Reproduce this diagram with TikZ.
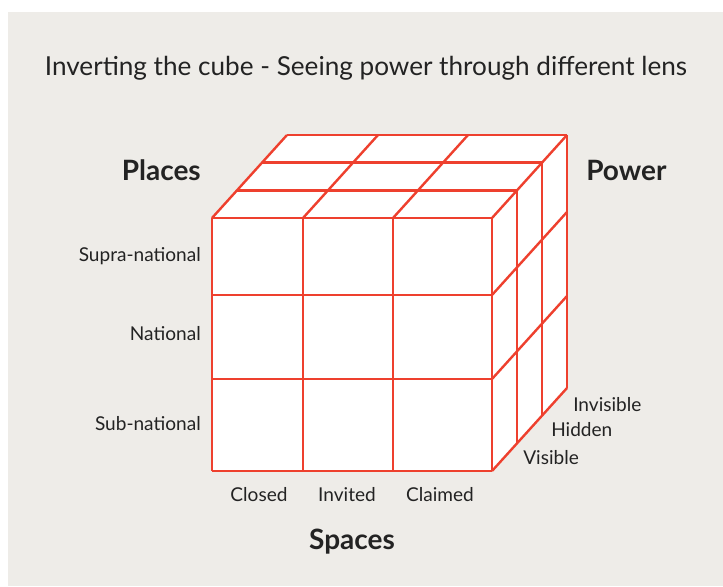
\documentclass[tikz,border=0pt]{standalone}
\usepackage{fontspec}
\setmainfont{Lato}
\usepackage{tikz}
\definecolor{cubered}{RGB}{238,64,46}
\definecolor{paper}{RGB}{238,236,232}
\definecolor{ink}{RGB}{35,35,35}

\begin{document}
\begin{tikzpicture}[x=0.75pt, y=-0.75pt,
    edge/.style={draw=cubered, line width=1.8pt, line join=miter},
    lbl/.style={font=\fontsize{14.3}{17}\selectfont, text=ink, inner sep=0pt},
    axis/.style={font=\bfseries\fontsize{21}{24}\selectfont, text=ink, inner sep=0pt}
  ]
    \useasboundingbox (0,0) rectangle (723,586);
    \fill[paper] (8,12) rectangle (723,586);

    % faces
    \fill[white] (212,218) -- (287,135) -- (567,135) -- (567,388) -- (492,471) -- (212,471) -- cycle;

    % front face grid
    \foreach \x in {212,303,393,492}
      \draw[edge] (\x,218) -- (\x,471);
    \foreach \y in {218,295,379,471}
      \draw[edge] (212,\y) -- (492,\y);
    % top face
    \foreach \k in {1,2,3}
      \draw[edge] (212+25*\k,218-27.67*\k) -- (492+25*\k,218-27.67*\k);
    \foreach \x in {212,303,393,492}
      \draw[edge] (\x,218) -- (\x+75,135);
    % right face
    \foreach \k in {1,2,3}
      \draw[edge] (492+25*\k,218-27.67*\k) -- (492+25*\k,471-27.67*\k);
    \foreach \y in {295,379,471}
      \draw[edge] (492,\y) -- (567,\y-83);

    \node[lbl] (title) at (366,68) {\fontsize{19.6}{23}\selectfont Inverting the cube - Seeing power through different lens};

    \node[axis, anchor=east] (places) at (201,170) {Places};
    \node[axis, anchor=west] (power) at (586,170) {Power};
    \node[axis] (spaces) at (352,542) {Spaces};

    \node[lbl, anchor=east] (supra) at (201,256) {Supra-national};
    \node[lbl, anchor=east] (national) at (201,334) {National};
    \node[lbl, anchor=east] (sub) at (201,424) {Sub-national};

    \node[lbl] (closed) at (259,495) {Closed};
    \node[lbl] (invited) at (347,495) {Invited};
    \node[lbl] (claimed) at (440,495) {Claimed};

    \node[lbl, anchor=west] (visible) at (523,458) {Visible};
    \node[lbl, anchor=west] (hidden) at (551,430) {Hidden};
    \node[lbl, anchor=west] (invisible) at (573,405) {Invisible};
  \end{tikzpicture}
\end{document}
